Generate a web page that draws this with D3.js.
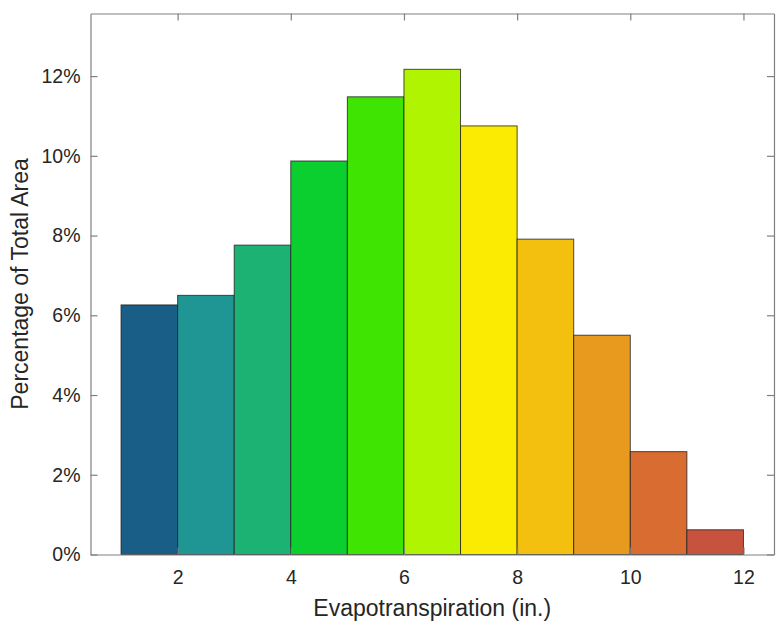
<!DOCTYPE html>
<html>
<head>
<meta charset="utf-8">
<script src="https://cdn.jsdelivr.net/npm/d3@7/dist/d3.min.js"></script>
<style>
  html, body { margin: 0; padding: 0; background: #fff; }
  svg { display: block; font-family: "Liberation Sans", Arial, Helvetica, sans-serif; }
</style>
</head>
<body>
<svg id="chart" width="781" height="628"></svg>
<script>
// Histogram of evapotranspiration: bin edges (inches) and share of total area (%)
const binStarts = [1, 2, 3, 4, 5, 6, 7, 8, 9, 10, 11];
const binEnds   = [2, 3, 4, 5, 6, 7, 8, 9, 10, 11, 12];
const percents  = [6.26, 6.50, 7.76, 9.87, 11.48, 12.17, 10.75, 7.91, 5.50, 2.58, 0.62];
const barColors = ["#185e86", "#1f9594", "#1bb273", "#0bcf2e", "#3fe403", "#b1f402",
                   "#fbea02", "#f3c010", "#e89a1f", "#d96c30", "#c7533f"];
const xTicks = [2, 4, 6, 8, 10, 12];
const yTicks = [0, 2, 4, 6, 8, 10, 12];

const svg = d3.select("#chart");
const box = { left: 90.5, right: 774, top: 13.5, bottom: 554.5 };

const x = d3.scaleLinear().domain([0.46, 12.54]).range([box.left, box.right]);
const y = d3.scaleLinear().domain([0, 13.57]).range([box.bottom, box.top]);

const axisColor = "#808080";
const textColor = "#262626";

// Bars
svg.append("g").selectAll("rect")
  .data(percents)
  .join("rect")
  .attr("x", (d, i) => x(binStarts[i]))
  .attr("width", (d, i) => x(binEnds[i]) - x(binStarts[i]))
  .attr("y", d => y(d))
  .attr("height", d => y(0) - y(d))
  .attr("fill", (d, i) => barColors[i])
  .attr("stroke", "#222")
  .attr("stroke-opacity", 0.8)
  .attr("stroke-width", 1);

// Axes: bottom/left with labels, top/right mirrored ticks only
const tickLen = 7;
const fmtPct = d => d + "%";

const gB = svg.append("g").attr("transform", `translate(0,${box.bottom})`)
  .call(d3.axisBottom(x).tickValues(xTicks).tickSizeInner(-tickLen).tickSizeOuter(0).tickPadding(16));
const gT = svg.append("g").attr("transform", `translate(0,${box.top})`)
  .call(d3.axisTop(x).tickValues(xTicks).tickSizeInner(-tickLen).tickSizeOuter(0).tickFormat(""));
const gL = svg.append("g").attr("transform", `translate(${box.left},0)`)
  .call(d3.axisLeft(y).tickValues(yTicks).tickSizeInner(-tickLen).tickSizeOuter(0).tickPadding(10).tickFormat(fmtPct));
const gR = svg.append("g").attr("transform", `translate(${box.right},0)`)
  .call(d3.axisRight(y).tickValues(yTicks).tickSizeInner(-tickLen).tickSizeOuter(0).tickFormat(""));

[gB, gT, gL, gR].forEach(g => {
  g.select(".domain").attr("stroke", axisColor).attr("stroke-width", 1.2);
  g.selectAll(".tick line").attr("stroke", axisColor).attr("stroke-width", 1.2);
  g.selectAll(".tick text").attr("fill", textColor).style("font-size", "19.5px")
    .style("font-family", "'Liberation Sans', Arial, sans-serif");
});

// Axis titles
svg.append("text")
  .attr("x", (box.left + box.right) / 2)
  .attr("y", 616)
  .attr("text-anchor", "middle")
  .attr("fill", textColor)
  .style("font-size", "23px")
  .text("Evapotranspiration (in.)");

svg.append("text")
  .attr("transform", `translate(28,${(box.top + box.bottom) / 2}) rotate(-90)`)
  .attr("text-anchor", "middle")
  .attr("fill", textColor)
  .style("font-size", "23px")
  .text("Percentage of Total Area");
</script>
</body>
</html>
